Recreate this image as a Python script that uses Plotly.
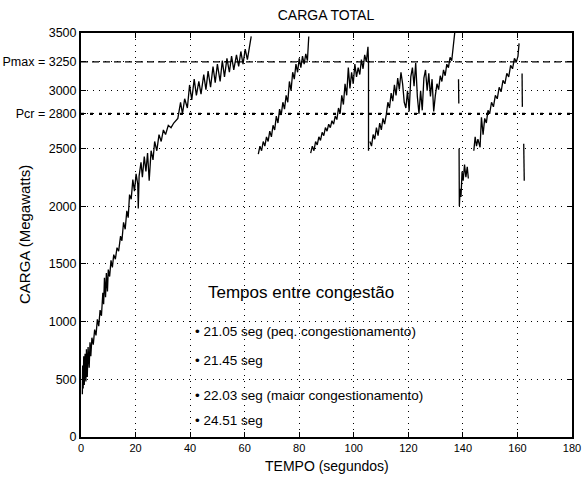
import plotly.graph_objects as go

# ---- data ----
seg1_t = [0.5,0.6,0.8,1.0,1.2,1.5,1.8,2.0,2.3,2.6,3.0,3.3,3.6,4.0,4.5,5.0,5.5,6.0,6.5,7.0,7.5,8.0,8.3,8.6,9.0,9.3,9.7,10.0,10.5,11.0,11.5,12.0,12.6,13.2,13.8,14.5,15.0,15.6,16.2,16.8,17.3,17.8,18.4,19.0,19.6,20.2,20.8,21.0,21.3,22.0,22.5,23.2,23.8,24.4,25.0,25.7,26.4,27.0,27.8,28.6,29.4,30.2,31.0,32.0,33.0,34.0,35.5,36.5,37.2,38.0,39.0,39.8,40.6,41.5,42.3,43.2,44.0,45.0,45.8,46.6,47.5,48.4,49.2,50.0,51.0,51.8,52.6,53.5,54.4,55.2,56.0,57.0,57.8,58.6,59.4,60.2,61.0,61.8,62.4]
seg1_v = [370,620,420,700,450,720,480,760,520,780,600,820,700,860,800,930,880,1020,960,1100,1050,1250,1150,1380,1210,1420,1260,1450,1390,1530,1470,1580,1540,1640,1610,1740,1700,1860,1800,1960,1900,2100,2060,2230,2130,2280,2190,1980,2260,2380,2250,2430,2300,2460,2220,2480,2400,2560,2480,2620,2560,2660,2620,2700,2680,2720,2760,2900,2800,2930,2850,3050,2920,3100,2960,3080,2970,3140,3010,3170,3030,3210,3070,3230,3080,3260,3120,3280,3160,3300,3180,3310,3210,3340,3230,3360,3270,3390,3470]

seg2_t = [65.0,65.6,66.2,66.8,67.4,68.0,68.6,69.2,69.8,70.4,71.0,71.6,72.2,72.8,73.4,74.0,74.6,75.2,75.8,76.4,77.0,77.6,78.2,78.8,79.4,80.0,80.6,81.2,81.8,82.4,83.0,83.5]
seg2_v = [2450,2520,2480,2560,2520,2600,2560,2650,2600,2700,2660,2780,2720,2840,2790,2900,2840,2960,2900,3080,3000,3160,3100,3230,3160,3280,3200,3300,3230,3320,3260,3470]

seg3_t = [84.2,84.8,85.4,86.0,86.6,87.2,87.8,88.4,89.0,89.6,90.2,90.8,91.4,92.0,92.6,93.2,93.8,94.4,95.0,95.6,96.2,96.8,97.4,98.0,98.6,99.2,99.8,100.4,101.0,101.6,102.2,102.8,103.4,104.0,104.6,105.2,105.4,105.4]
seg3_v = [2460,2520,2480,2560,2530,2600,2570,2640,2610,2680,2650,2710,2680,2740,2710,2780,2750,2850,2800,2960,2880,3060,2960,3200,3020,3160,3060,3230,3120,3200,3140,3270,3190,3310,3250,3380,3240,2480]

seg4_t = [105.9,106.5,107.1,107.7,108.3,108.9,109.5,110.1,110.7,111.3,111.9,112.5,113.1,113.7,114.3,114.9,115.5,116.1,116.7,117.3,117.9,118.5,119.1,119.7,120.3,120.9,121.5,122.1,122.7,123.3,123.9,124.5,125.1,125.7,126.3,126.9,127.5,128.1,128.7,129.3,129.9,130.5,131.1,131.7,132.3,132.9,133.5,134.1,134.7,135.3,135.9,136.5,137.0]
seg4_v = [2560,2520,2620,2580,2680,2610,2720,2660,2760,2710,2790,2900,2850,2980,2910,3050,2960,3110,3010,3160,3060,2900,2850,3000,2820,3120,3200,3040,3240,2950,2800,3000,2830,3110,3180,3000,3150,2950,3100,2820,2960,3060,3010,3130,3080,3180,3130,3230,3200,3290,3260,3400,3500]

seg5_t = [138.4,138.5]
seg5_v = [3100,2890]

seg6_t = [138.6,138.7,139.0,139.3,139.7,140.1,140.6,141.1,141.6,142.0]
seg6_v = [2500,2000,2150,2080,2300,2220,2360,2250,2340,2240]

seg7_t = [144.0,144.5,145.0,145.5,146.3,146.8,147.4,148.0,148.6,149.2,149.8,150.5,151.2,151.9,152.6,153.3,154.0,154.7,155.4,156.1,156.8,157.5,158.2,158.9,159.6,160.2,160.6]
seg7_v = [2480,2600,2520,2580,2510,2770,2620,2760,2720,2830,2800,2900,2860,2960,2930,3030,2990,3090,3060,3150,3120,3220,3190,3280,3250,3300,3410]

seg8_t = [161.7,161.8]
seg8_v = [3150,2860]

seg9_t = [162.3,162.5]
seg9_v = [2540,2220]

segments = [(seg1_t, seg1_v), (seg2_t, seg2_v), (seg3_t, seg3_v), (seg4_t, seg4_v),
            (seg5_t, seg5_v), (seg6_t, seg6_v), (seg7_t, seg7_v), (seg8_t, seg8_v),
            (seg9_t, seg9_v)]

x_ticks = [0, 20, 40, 60, 80, 100, 120, 140, 160, 180]
x_ticktext = ["0", "20", "40", "60", "80", "100", "120", "140", "160", "180"]
y_ticks = [0, 500, 1000, 1500, 2000, 2500, 2800, 3000, 3250, 3500]
y_ticktext = ["0", "500", "1000", "1500", "2000", "2500", "Pcr = 2800", "3000",
              "Pmax = 3250", "3500"]

limit_upper = 3250
limit_lower = 2800

legend_title = "Tempos entre congestão"
legend_items = ["21.05 seg (peq. congestionamento)", "21.45 seg",
                "22.03 seg (maior congestionamento)", "24.51 seg"]
legend_y = [910, 667, 360, 140]

# ---- figure ----
xs, ys = [], []
for t, v in segments:
    xs += t + [None]
    ys += v + [None]

fig = go.Figure()
fig.add_trace(go.Scatter(x=xs, y=ys, mode="lines",
                         line=dict(color="black", width=1.3),
                         connectgaps=False, showlegend=False, hoverinfo="skip"))

# reference lines
fig.add_shape(type="line", xref="x", yref="y", x0=0, x1=180, y0=limit_upper, y1=limit_upper,
              line=dict(color="black", width=1.2, dash="7px,4px"))
fig.add_shape(type="line", xref="x", yref="y", x0=0, x1=180, y0=limit_lower, y1=limit_lower,
              line=dict(color="black", width=2.2, dash="3px,6px"))

font = "Liberation Sans, Arial, sans-serif"
ann = []
ann.append(dict(x=46, y=1250, xref="x", yref="y", text=legend_title, showarrow=False,
                xanchor="left", yanchor="middle", font=dict(size=17, color="black", family=font)))
for txt, yv in zip(legend_items, legend_y):
    ann.append(dict(x=41, y=yv, xref="x", yref="y", text="\u2022 " + txt, showarrow=False,
                    xanchor="left", yanchor="middle", font=dict(size=13.5, color="black", family=font)))
ann.append(dict(x=0.5, y=0, xref="paper", yref="paper", text="TEMPO (segundos)", showarrow=False,
                xanchor="center", yanchor="middle", yshift=-29, font=dict(size=14, color="black", family=font)))
ann.append(dict(x=0, y=0.5, xref="paper", yref="paper", text="CARGA (Megawatts)", showarrow=False,
                textangle=-90, xanchor="center", yanchor="middle", xshift=-57,
                font=dict(size=15, color="black", family=font)))

axis_common = dict(showline=True, linecolor="black", linewidth=2, mirror="ticks",
                   ticks="inside", ticklen=5, tickcolor="black", tickwidth=1,
                   showgrid=True, gridcolor="black", gridwidth=1, griddash="1px,5px",
                   zeroline=False, ticklabeloverflow="allow", automargin=False)

fig.update_layout(
    width=583, height=480,
    margin=dict(l=81, r=11, t=33, b=43),
    paper_bgcolor="white", plot_bgcolor="white",
    title=dict(text="CARGA TOTAL", x=(81 + 245) / 583, xanchor="center", y=1 - 15 / 480, yanchor="middle",
               yref="container", font=dict(size=14, color="black", family=font)),
    xaxis=dict(range=[0, 180], tickvals=x_ticks, ticktext=x_ticktext,
               tickfont=dict(size=11, color="black", family=font), **axis_common),
    yaxis=dict(range=[0, 3500], tickvals=y_ticks, ticktext=y_ticktext,
               tickfont=dict(size=12.5, color="black", family=font), **axis_common),
    annotations=ann,
)

fig.write_html("out.html")
